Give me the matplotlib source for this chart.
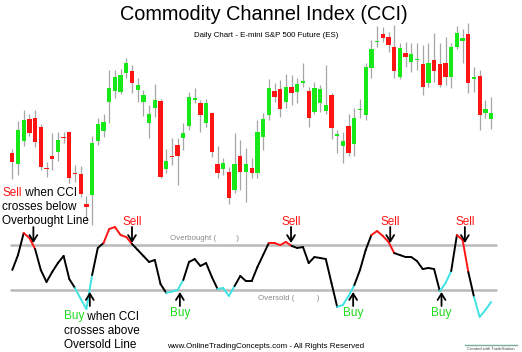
import numpy as np
import matplotlib
matplotlib.use("Agg")
import matplotlib.pyplot as plt
from matplotlib.lines import Line2D
from matplotlib.collections import LineCollection

plt.rcParams['font.family'] = ['Liberation Sans', 'DejaVu Sans']

W, H = 522, 352

#
# daily bars (arbitrary price units)
#
opens = [147, 136, 159, 181, 182, 173, 132, 144, 148, 163,
         168, 127, 126, 96, 105, 159, 169, 198, 209, 208,
         227, 229, 210, 198, 177, 192, 199, 131, 144, 155,
         162, 174, 200, 197, 177, 187, 136, 131, 128, 110,
         144, 128, 132, 127, 163, 185, 209, 211, 198, 213,
         208, 217, 209, 188, 197, 189, 205, 164, 154, 174,
         156, 190, 185, 232, 258, 266, 263, 253, 223, 247,
         238, 240, 236, 217, 240, 236, 237, 223, 253, 259,
         266, 221, 224, 187, 181]
highs = [151, 179, 190, 186, 190, 176, 138, 167, 168, 168,
         169, 135, 134, 104, 164, 182, 186, 230, 230, 231,
         242, 235, 222, 210, 195, 216, 201, 151, 162, 162,
         177, 208, 212, 200, 201, 188, 154, 142, 133, 167,
         160, 152, 142, 180, 187, 221, 217, 220, 226, 225,
         222, 237, 213, 218, 215, 235, 207, 170, 168, 186,
         192, 201, 237, 260, 274, 273, 268, 275, 257, 258,
         257, 257, 255, 257, 267, 257, 263, 257, 274, 271,
         277, 233, 230, 200, 203]
lows = [121, 125, 154, 164, 153, 130, 123, 130, 139, 157,
        117, 118, 103, 80, 75, 155, 163, 177, 202, 206,
        222, 207, 198, 184, 162, 183, 122, 127, 135, 115,
        150, 170, 197, 168, 173, 143, 122, 125, 96, 107,
        110, 98, 122, 122, 150, 180, 198, 183, 192, 195,
        197, 213, 173, 186, 188, 186, 161, 147, 137, 144,
        144, 182, 180, 222, 253, 258, 248, 222, 221, 233,
        228, 230, 205, 213, 218, 213, 215, 212, 251, 237,
        207, 208, 170, 182, 171]
closes = [138, 170, 180, 167, 158, 133, 131, 141, 160, 162,
          122, 126, 106, 93, 157, 176, 178, 212, 223, 225,
          237, 217, 215, 205, 186, 200, 123, 139, 143, 144,
          167, 203, 202, 185, 197, 148, 127, 137, 102, 136,
          128, 136, 127, 168, 181, 212, 203, 191, 213, 207,
          216, 219, 182, 212, 211, 195, 172, 166, 159, 147,
          182, 191, 233, 251, 259, 262, 255, 229, 252, 243,
          246, 241, 213, 237, 229, 215, 223, 253, 267, 262,
          217, 223, 185, 191, 187]

# CCI values, one per bar
cci = [-12, 55, 154, 132, 82, -12, -66, -21, 19, 51,
       -53, -93, -142, -187, -35, 87, 109, 172, 181, 145,
       136, 105, 78, 51, 24, 33, -75, -115, -109, -102,
       -57, 24, 37, 6, 19, -43, -97, -93, -129, -84,
       -39, -62, -62, 1, 55, 109, 109, 100, 114, 96,
       87, 91, 19, 46, 42, 37, -71, -178, -169, -129,
       -80, -12, 78, 145, 163, 141, 114, 64, 55, 46,
       46, 28, -8, -3, -8, -107, -71, -17, 145, 123,
       -21, -133, -223, -192, -156]

overbought, oversold = 100, -100

# bar ranges where the CCI line is highlighted
red_spans = [(2, 4), (16, 21), (45, 49), (63, 67), (78, 80)]
cyan_spans = [(11, 14), (27, 30), (36, 39), (57, 60), (75, 77), (81, 84)]

# where the signal arrows sit (bar position)
sell_at = [3.7, 21.0, 48.9, 66.3, 79.4]
buy_at = [13.6, 29.4, 59.8, 75.3]

GREEN = '#17e817'
RED = '#ff1414'
CYAN = '#3fe3e3'
TEXT_GREEN = '#1fdc1f'


def fx(x):
    return x / W


def fy(y):
    return 1 - y / H


fig = plt.figure(figsize=(W / 100, H / 100), dpi=100)

n = len(opens)
idx = np.arange(n)
xlim = (-12.3 / 5.7, (W - 12.3) / 5.7)

#
# price panel
#
axp = fig.add_axes([0, 0, 1, 1])
axp.set_xlim(*xlim)
axp.set_ylim(-52, 300)
axp.axis('off')

o = np.array(opens, float)
c = np.array(closes, float)
up = c > o
axp.vlines(idx, lows, highs, color='#a6a6a6', lw=0.9, zorder=1)
body = np.abs(c - o)
bh = np.maximum(body, 1.6)
bottom = np.minimum(o, c) - (bh - body) / 2
axp.bar(idx, bh, bottom=bottom, width=0.74,
        color=np.where(up, GREEN, RED), linewidth=0, zorder=2)

#
# CCI panel
#
axc = fig.add_axes([0, 0, 1, 1])
axc.set_xlim(*xlim)
axc.set_ylim(-380.7, 1201.3)
axc.axis('off')

axc.hlines([overbought, oversold], -0.4, n, color='#b9b9b9', lw=1.8, zorder=1)

seg_col = ['black'] * (n - 1)
for a, b in cyan_spans:
    for j in range(a, b):
        seg_col[j] = CYAN
for a, b in red_spans:
    for j in range(a, b):
        seg_col[j] = RED
pts = np.column_stack([idx, cci])
segs = np.stack([pts[:-1], pts[1:]], axis=1)
axc.add_collection(LineCollection(segs, colors=seg_col, linewidths=1.4,
                                  capstyle='round', joinstyle='round', zorder=3))

arrow = dict(arrowstyle='->,head_length=0.45,head_width=0.28', color='black',
             lw=1.3, shrinkA=0, shrinkB=0)
for s in sell_at:
    axc.annotate('', xy=(s, 109), xytext=(s, 181), arrowprops=arrow, zorder=4)
for b in buy_at:
    axc.annotate('', xy=(b, -111), xytext=(b, -174), arrowprops=arrow, zorder=4)

for s in sell_at[1:]:
    axc.text(s, 192, 'Sell', color=RED, fontsize=8.5, ha='center', va='baseline')
for b in buy_at[1:]:
    axc.text(b, -219, 'Buy', color=TEXT_GREEN, fontsize=8.5, ha='center', va='baseline')

fig.text(fx(170), fy(240.5), 'Overbought (         )', color='#8a8a8a',
         fontsize=5.7, va='baseline')
fig.text(fx(258), fy(300), 'Oversold (          )', color='#8a8a8a',
         fontsize=5.7, va='baseline')


def two_tone(x, y, word, color, rest):
    t = fig.text(fx(x), fy(y), word, color=color, fontsize=8.5, va='baseline')
    axp.annotate(rest, xy=(1, 0), xycoords=t, va='bottom', ha='left',
                 fontsize=8.5, color='black', annotation_clip=False)


two_tone(2.3, 196.5, 'Sell', RED, ' when CCI')
fig.text(fx(2.3), fy(210.5), 'crosses below', fontsize=8.5, va='baseline')
fig.text(fx(2.3), fy(224), 'Overbought Line', fontsize=8.5, va='baseline')

two_tone(64, 319.5, 'Buy', TEXT_GREEN, ' when CCI')
fig.text(fx(64), fy(334), 'crosses above', fontsize=8.5, va='baseline')
fig.text(fx(64), fy(348.5), 'Oversold Line', fontsize=8.5, va='baseline')

#
# titles / footer
#
fig.text(fx(264), fy(20.5), 'Commodity Channel Index (CCI)', fontsize=14.3,
         ha='center', va='baseline')
fig.text(fx(266), fy(37), 'Daily Chart - E-mini S&P 500 Future (ES)', fontsize=5.7,
         ha='center', va='baseline')
fig.text(fx(167), fy(348), 'www.OnlineTradingConcepts.com - All Rights Reserved',
         fontsize=5.75, va='baseline')

fig.add_artist(Line2D([fx(465), fx(517)], [fy(344.5)] * 2, color='#7aae98', lw=1.0))
fig.text(fx(491), fy(350), 'Created with TradeStation', fontsize=3.0,
         ha='center', va='baseline', color='#444444')

fig.savefig('out.png', dpi=100)
